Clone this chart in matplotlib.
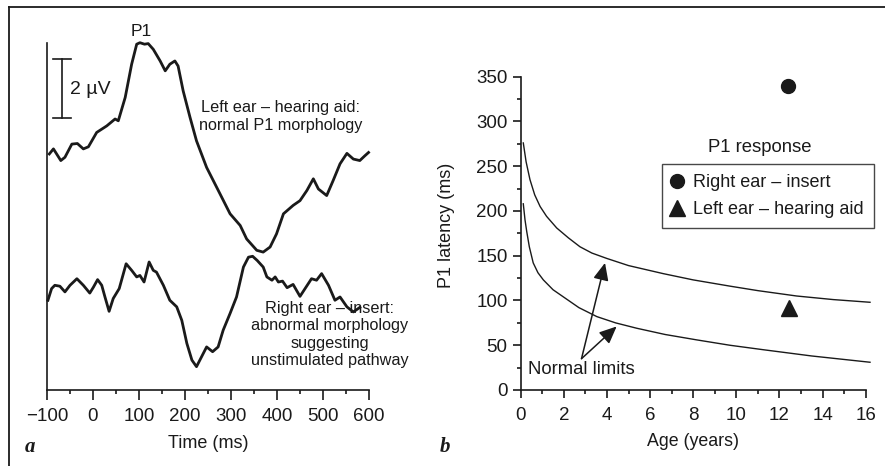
import numpy as np
import matplotlib
matplotlib.use('Agg')
import matplotlib.pyplot as plt
from matplotlib.ticker import MultipleLocator

plt.rcParams['font.family'] = ['Liberation Sans', 'DejaVu Sans']
plt.rcParams['font.size'] = 11.7
ink = '#1a1a1a'

# panel a: cortical responses (microvolts, arbitrary offset)
left_t = [-95, -86, -70, -61, -46, -34, -21, -10, 8, 30, 48, 55, 70, 84, 95, 102, 112, 120, 131,
          146, 157, 167, 178, 185, 196, 211, 225, 247, 276, 298, 320, 334, 356, 370, 385, 399,
          414, 435, 450, 465, 479, 490, 508, 522, 537, 552, 566, 580, 591, 599]
left_v = [7.89, 8.06, 7.67, 7.78, 8.22, 8.24, 8.06, 8.13, 8.61, 8.83, 9.06, 9.0, 9.78, 10.89, 11.56,
          11.61, 11.56, 11.58, 11.39, 11.0, 10.67, 10.89, 11.0, 10.83, 10.0, 9.11, 8.33, 7.44, 6.56,
          5.89, 5.5, 5.05, 4.67, 4.61, 4.78, 5.22, 5.89, 6.17, 6.33, 6.67, 7.06, 6.72, 6.5, 7.0,
          7.56, 7.91, 7.72, 7.67, 7.83, 7.94]
right_t = [-98, -90, -83, -72, -61, -50, -35, -21, -7, 1, 10, 19, 26, 35, 44, 57, 72, 84, 95, 102,
           111, 122, 131, 138, 153, 167, 182, 193, 204, 215, 225, 236, 247, 260, 272, 283, 298, 312,
           327, 338, 347, 357, 370, 378, 389, 396, 403, 412, 422, 435, 450, 461, 475, 486, 497, 512,
           526, 537, 552, 566, 580]
right_v = [3.0, 3.39, 3.5, 3.47, 3.28, 3.5, 3.72, 3.5, 3.24, 3.44, 3.69, 3.5, 3.11, 2.63, 3.06, 3.39,
           4.22, 4.0, 3.78, 3.83, 3.61, 4.28, 4.0, 3.94, 3.5, 3.0, 2.78, 2.33, 1.56, 1.0, 0.78, 1.11,
           1.44, 1.28, 1.44, 2.0, 2.56, 3.11, 4.11, 4.44, 4.47, 4.33, 4.11, 3.78, 3.67, 3.78, 3.61,
           3.64, 3.42, 3.53, 3.13, 3.39, 3.72, 3.67, 3.89, 3.5, 3.0, 3.11, 2.78, 2.61, 2.76]

# panel b: P1 latency normal limits and the patient's responses
upper_age = [0.12, 0.25, 0.43, 0.65, 0.9, 1.2, 1.67, 2.21, 2.75, 3.3, 3.99, 5.0, 6.61, 8.0, 9.71,
             11.0, 12.8, 14.5, 16.2]
upper_lat = [276, 255, 235, 218, 205, 194, 181, 170, 160, 153, 147, 139, 130, 123, 116, 111, 105,
             101, 98]
lower_age = [0.12, 0.2, 0.28, 0.4, 0.58, 0.8, 1.05, 1.5, 1.98, 2.7, 3.53, 4.4, 5.38, 6.7, 8.16, 9.7,
             11.25, 13.5, 16.2]
lower_lat = [208, 190, 177, 160, 142, 131, 123, 112, 104, 92, 82, 75, 69, 62, 56, 50, 45, 38, 31]
right_ear = (12.4, 340)
left_ear = (12.45, 92)

fig = plt.figure(figsize=(8.85, 4.66), dpi=100)

# frame lines of the original figure (top and left only)
fig.add_artist(plt.Line2D([9/885, 1], [1-7/466, 1-7/466], color=ink, lw=1.3))
fig.add_artist(plt.Line2D([9/885, 9/885], [0, 1-7/466], color=ink, lw=1.3))

# ---- panel a
ax = fig.add_axes([47/885, 1-390/466, 322/885, 347/466])
ax.plot(left_t, left_v, color=ink, lw=2.0, clip_on=False, solid_joinstyle='round')
ax.plot(right_t, right_v, color=ink, lw=2.0, clip_on=False, solid_joinstyle='round')
ax.set_xlim(-100, 600)
ax.set_ylim(0, 11.6)
ax.spines[['top', 'right']].set_visible(False)
for s in ax.spines.values():
    s.set_color(ink)
    s.set_linewidth(1.2)
ax.set_yticks([])
ax.xaxis.set_major_locator(MultipleLocator(100))
ax.xaxis.set_minor_locator(MultipleLocator(50))
ax.tick_params(axis='x', which='major', length=7, width=1.2, color=ink, labelcolor=ink, pad=6,
               labelsize=13.5)
ax.tick_params(axis='x', which='minor', length=3, width=1.2, color=ink)
ax.set_xticklabels(['\u2212100' if v < 0 else str(int(v)) for v in ax.get_xticks()])
ax.set_xlabel('Time (ms)', color=ink, labelpad=7, fontsize=13)

# 2 microvolt scale bar
ax.plot([-67, -67], [9.1, 11.07], color=ink, lw=1.2, clip_on=False)
ax.plot([-87, -48], [11.07, 11.07], color=ink, lw=1.2, clip_on=False)
ax.plot([-87, -48], [9.1, 9.1], color=ink, lw=1.2, clip_on=False)
ax.text(-50, 10.05, '2 \u00b5V', ha='left', va='center', color=ink, fontsize=14)
ax.text(104, 11.75, 'P1', ha='center', va='bottom', color=ink, fontsize=12.5)
ax.text(407, 9.15, 'Left ear \u2013 hearing aid:\nnormal P1 morphology', ha='center', va='center',
        color=ink, linespacing=1.25)
ax.text(515, 1.85, 'Right ear \u2013 insert:\nabnormal morphology\nsuggesting\nunstimulated pathway',
        ha='center', va='center', color=ink, linespacing=1.2)
fig.text(30/885, 1-447/466, 'a', family='Liberation Serif', style='italic', weight='bold',
         fontsize=15, ha='center', va='center', color=ink)

# ---- panel b
bx = fig.add_axes([520.7/885, 1-390/466, 345/885, 313.3/466])
bx.plot(upper_age, upper_lat, color=ink, lw=1.0, clip_on=False)
bx.plot(lower_age, lower_lat, color=ink, lw=1.0, clip_on=False)
bx.plot(*right_ear, 'o', color=ink, ms=10, clip_on=False, label='Right ear \u2013 insert')
bx.plot(*left_ear, '^', color=ink, ms=11, clip_on=False, label='Left ear \u2013 hearing aid')
bx.set_xlim(0, 16)
bx.set_ylim(0, 350)
bx.spines[['top', 'right']].set_visible(False)
for s in bx.spines.values():
    s.set_color(ink)
    s.set_linewidth(1.2)
bx.xaxis.set_major_locator(MultipleLocator(2))
bx.xaxis.set_minor_locator(MultipleLocator(1))
bx.yaxis.set_major_locator(MultipleLocator(50))
bx.yaxis.set_minor_locator(MultipleLocator(25))
bx.tick_params(which='major', length=6, width=1.2, color=ink, labelcolor=ink, labelsize=13.5)
bx.tick_params(axis='x', which='major', pad=6)
bx.tick_params(which='minor', length=3, width=1.2, color=ink)
bx.set_xlabel('Age (years)', color=ink, labelpad=7, fontsize=12.8)
bx.set_ylabel('P1 latency (ms)', color=ink, fontsize=13)
bx.yaxis.set_label_coords(-0.19, 0.527)

for tip in [(3.91, 142), (4.45, 71)]:
    bx.annotate('', xy=tip, xytext=(2.82, 35),
                arrowprops=dict(arrowstyle='-|>,head_length=0.9,head_width=0.4', color=ink, lw=1.1,
                                shrinkA=0, shrinkB=0))
bx.text(2.82, 23, 'Normal limits', ha='center', va='center', color=ink, fontsize=13.3)

leg = bx.legend(loc='upper left', bbox_to_anchor=(661.7/885, 1-164.3/466), bbox_transform=fig.transFigure,
                frameon=True, fancybox=False, edgecolor=ink, handlelength=0.6, handletextpad=0.6,
                borderpad=0.55, labelspacing=0.55, fontsize=13, borderaxespad=0)
leg.get_frame().set_linewidth(1.0)
for t in leg.get_texts():
    t.set_color(ink)
fig.text(760/885, 1-147/466, 'P1 response', ha='center', va='center', color=ink, fontsize=13.3)
fig.text(445/885, 1-447/466, 'b', family='Liberation Serif', style='italic', weight='bold',
         fontsize=15, ha='center', va='center', color=ink)

fig.savefig('out.png', dpi=100)
